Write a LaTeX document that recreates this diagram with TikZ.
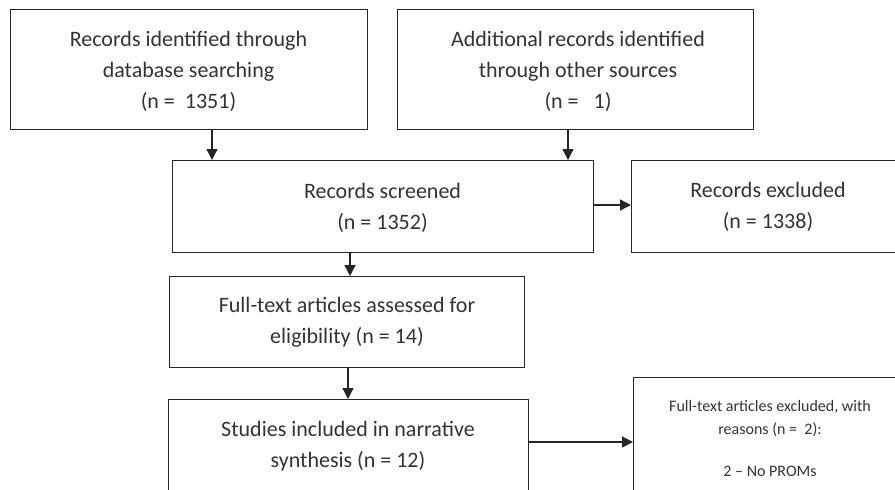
\documentclass[tikz,border=0pt]{standalone}
\usepackage{fontspec}
\setmainfont{Carlito}
\usetikzlibrary{arrows.meta}
\definecolor{linec}{HTML}{262626}
\definecolor{textc}{HTML}{333333}
\begin{document}
\begin{tikzpicture}[x=1pt,y=-1pt,
  box/.style={draw=linec, line width=1.3pt, inner sep=0pt, anchor=north west},
  txt/.style={align=center, text=textc, font=\fontsize{22}{31}\selectfont, inner sep=0pt},
  smalltxt/.style={align=center, text=textc, font=\fontsize{16}{23}\selectfont, inner sep=0pt},
  arr/.style={draw=linec, line width=1.3pt, -{Triangle[length=11pt,width=11pt]}}]
\useasboundingbox (0,0) rectangle (895,490);
\clip (0,0) rectangle (895,490);
% boxes
\node[box, minimum width=357pt, minimum height=120pt] (b1) at (10,9) {};
\node[box, minimum width=356pt, minimum height=120pt] (b2) at (397,9) {};
\node[box, minimum width=421pt, minimum height=92pt] (scr) at (172,160) {};
\node[box, minimum width=274pt, minimum height=92pt] (rex) at (631,160) {};
\node[box, minimum width=355pt, minimum height=91pt] (ft) at (169,276) {};
\node[box, minimum width=360pt, minimum height=130pt] (st) at (168,399) {};
\node[box, minimum width=274pt, minimum height=150pt] (ex2) at (633,377) {};
% texts
\node[txt] (t1) at (188.5,71) {Records identified through\\database searching\\(n =\ \ 1351)};
\node[txt] (t2) at (578,71) {Additional records identified\\through other sources\\(n =\ \ \ 1)};
\node[txt] (tscr) at (382.5,207.5) {Records screened\\(n = 1352)};
\node[txt] (trex) at (768,207) {Records excluded\\(n = 1338)};
\node[txt] (tft) at (347,322.5) {Full-text articles assessed for\\eligibility (n = 14)};
\node[txt] (tst) at (348,446.5) {Studies included in narrative\\synthesis (n = 12)};
\node[smalltxt] (tex2) at (770,438) {Full-text articles excluded, with\\reasons (n =\ \ 2):\\[19pt]2 \textendash{} No PROMs};
% connectors
\coordinate (a1) at (212,0);
\coordinate (a2) at (568,0);
\coordinate (a3) at (0,205);
\coordinate (a4) at (350,0);
\coordinate (a5) at (348,0);
\coordinate (a6) at (0,442);
\draw[arr] (b1.south -| a1) -- (scr.north -| a1);
\draw[arr] (b2.south -| a2) -- (scr.north -| a2);
\draw[arr] (scr.east |- a3) -- (rex.west |- a3);
\draw[arr] (scr.south -| a4) -- (ft.north -| a4);
\draw[arr] (ft.south -| a5) -- (st.north -| a5);
\draw[arr] (st.east |- a6) -- (ex2.west |- a6);
\end{tikzpicture}
\end{document}
